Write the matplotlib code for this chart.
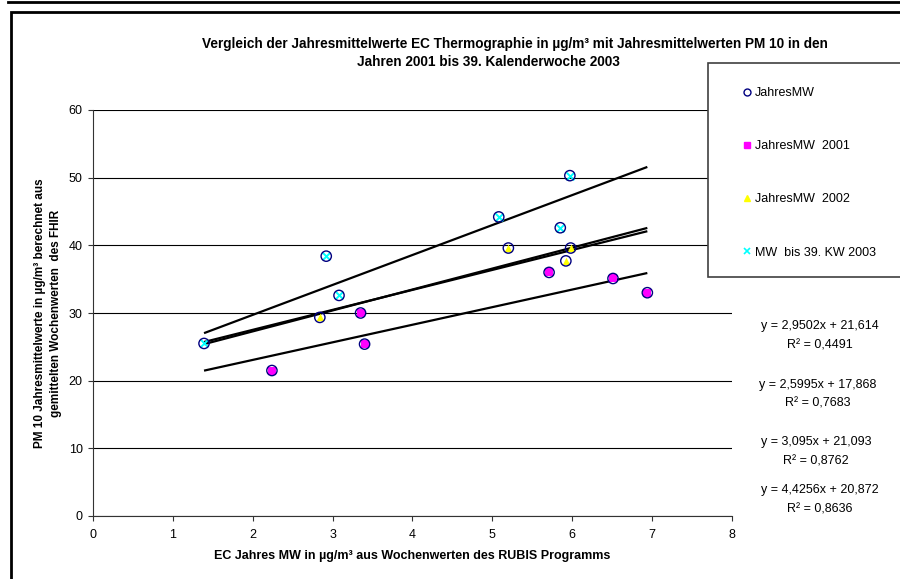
import numpy as np
import matplotlib
matplotlib.use('Agg')
import matplotlib.pyplot as plt
from matplotlib.lines import Line2D
from matplotlib.patches import Rectangle

plt.rcParams['font.family'] = ['Liberation Sans', 'DejaVu Sans']

# EC-Jahresmittel (x) und PM10-Jahresmittel (y), je Jahr
x_2001 = [2.24, 3.35, 3.40, 5.71, 6.51, 6.94]
y_2001 = [21.5, 30.0, 25.4, 36.0, 35.1, 33.0]
x_2002 = [2.84, 5.20, 5.92, 5.98]
y_2002 = [29.35, 39.6, 37.7, 39.6]
x_2003 = [1.39, 2.92, 3.08, 5.08, 5.97, 5.85]
y_2003 = [25.5, 38.4, 32.6, 44.2, 50.3, 42.6]

serien = ['JahresMW', 'JahresMW  2001', 'JahresMW  2002', 'MW  bis 39. KW 2003']

# Trendlinien aus Excel: Steigung, Achsenabschnitt, R²
trend_m = [2.9502, 2.5995, 3.095, 4.4256]
trend_b = [21.614, 17.868, 21.093, 20.872]
trend_r2 = [0.4491, 0.7683, 0.8762, 0.8636]

x_ticks = [0, 1, 2, 3, 4, 5, 6, 7, 8]
y_ticks = [0, 10, 20, 30, 40, 50, 60]

titel_1 = 'Vergleich der Jahresmittelwerte EC Thermographie in µg/m³ mit Jahresmittelwerten PM 10 in den'
titel_2 = 'Jahren 2001 bis 39. Kalenderwoche 2003'
x_titel = 'EC Jahres MW in µg/m³ aus Wochenwerten des RUBIS Programms'
y_titel = 'PM 10 Jahresmittelwerte in µg/m³ berechnet aus\ngemittelten Wochenwerten  des FHIR'

W, H = 900, 579
fig = plt.figure(figsize=(9, 5.79), dpi=100)
fig.patch.set_facecolor('white')

def fx(px):
    return px / W

def fy(py):
    return 1 - py / H

ax = fig.add_axes([fx(93), fy(516), fx(732 - 93), (516 - 110) / H])

x_alle = np.array(x_2001 + x_2002 + x_2003)
y_alle = np.array(y_2001 + y_2002 + y_2003)

# Trendlinien ueber den gesamten x-Bereich
xs = np.array([x_alle.min(), x_alle.max()])
for m, b in zip(trend_m, trend_b):
    ax.plot(xs, m * xs + b, color='black', lw=1.6, zorder=2, solid_capstyle='butt')

ax.scatter(x_2001, y_2001, marker='s', s=40, color='#FF00FF', linewidths=0, zorder=3)
ax.scatter(x_2002, y_2002, marker='^', s=30, color='#FFFF00', linewidths=0, zorder=3)
ax.scatter(x_2003, y_2003, marker='x', s=30, color='#00FFFF', linewidths=1.4, zorder=3)
ax.scatter(x_alle, y_alle, marker='o', s=55, facecolors='none', edgecolors='#000080',
           linewidths=1.0, zorder=4)

ax.set_xlim(0, 8)
ax.set_ylim(0, 60)
ax.set_xticks(x_ticks)
ax.set_yticks(y_ticks)
ax.tick_params(labelsize=9, length=3.5, width=0.8, direction='out', color='#333333')
ax.tick_params(axis='x', pad=6)
ax.tick_params(axis='y', pad=4)
ax.yaxis.grid(True, color='black', lw=0.8)
ax.set_axisbelow(True)
for s in ['top', 'right']:
    ax.spines[s].set_visible(False)
for s in ['left', 'bottom']:
    ax.spines[s].set_color('#333333')
    ax.spines[s].set_linewidth(0.8)

# Titel und Achsentitel
fig.text(fx(515), fy(44), titel_1, ha='center', va='center', fontsize=9.8, fontweight='bold')
fig.text(fx(488), fy(62), titel_2, ha='center', va='center', fontsize=9.8, fontweight='bold')
fig.text(fx(412), fy(556), x_titel, ha='center', va='center', fontsize=9, fontweight='bold')
fig.text(fx(48), fy(313), y_titel, ha='center', va='center', rotation=90, fontsize=8.5,
         fontweight='bold', linespacing=1.35)

# Gleichungen der Trendlinien
eq_x = [820, 818, 816, 820]
eq_y = [326, 385, 442, 490]
for m, b, r2, px, py in zip(trend_m, trend_b, trend_r2, eq_x, eq_y):
    gl = f'y = {m:g}x + {b:g}'.replace('.', ',')
    fig.text(fx(px), fy(py), gl, ha='center', va='center', fontsize=9)
    fig.text(fx(px), fy(py + 19), f'R² = {r2:g}'.replace('.', ','), ha='center',
             va='center', fontsize=9)

# Legendenkasten
box = Rectangle((fx(708), fy(277)), fx(915 - 708), (277 - 63) / H, transform=fig.transFigure,
                facecolor='white', edgecolor='#404040', lw=1.2, zorder=2, clip_on=False)
fig.add_artist(box)
handles = [
    Line2D([], [], ls='none', marker='o', ms=5, mfc='none', mec='#000080', mew=1.0),
    Line2D([], [], ls='none', marker='s', ms=5, color='#FF00FF'),
    Line2D([], [], ls='none', marker='^', ms=5, color='#FFFF00'),
    Line2D([], [], ls='none', marker='x', ms=5, color='#00FFFF', mew=1.2),
]
leg = fig.legend(handles, serien, loc='upper left', bbox_to_anchor=(fx(743), fy(87)),
                 frameon=False, fontsize=9, handlelength=0.7, handletextpad=0.25,
                 labelspacing=3.3, borderpad=0, borderaxespad=0)
leg.set_zorder(3)

# Rahmen
rahmen = Rectangle((fx(11), -0.05), 1.0, fy(12) + 0.05, transform=fig.transFigure,
                   facecolor='none', edgecolor='black', lw=2.0, zorder=5, clip_on=False)
fig.add_artist(rahmen)
fig.add_artist(Line2D([fx(8), 1.01], [fy(1.5), fy(1.5)], transform=fig.transFigure,
                      color='black', lw=2.0, zorder=5))

fig.savefig('out.png', dpi=100)
